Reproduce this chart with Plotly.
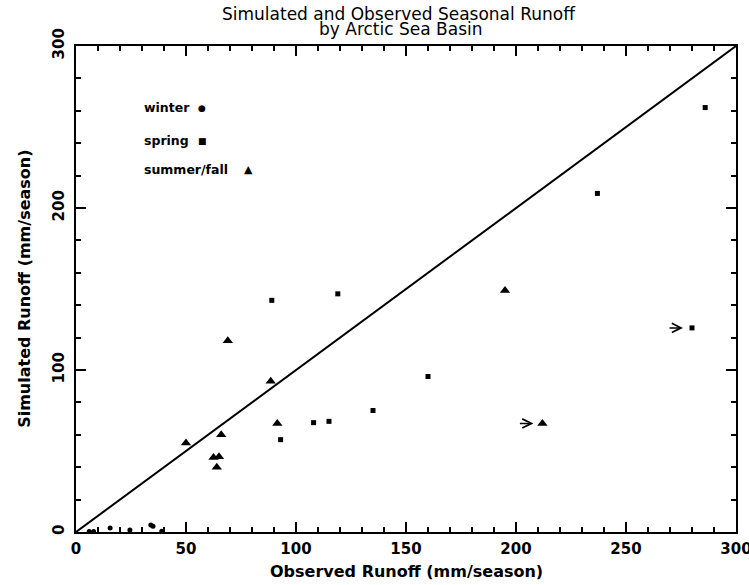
import plotly.graph_objects as go

# ---- data (mm/season) ----
winter_obs = [6, 8, 15.5, 24.5, 34, 35, 39]
winter_sim = [0.3, 0.3, 2.5, 1.2, 4.3, 3.5, 0.5]

spring_obs = [89, 119, 108, 115, 93, 135, 160, 237, 286, 280]
spring_sim = [143, 147, 67.5, 68.3, 57, 75, 96, 209, 262, 126]

summer_obs = [50, 66, 69, 88.5, 91.5, 195, 212, 62.5, 65, 64]
summer_sim = [55, 60, 118, 93, 67, 149, 67, 46, 46.5, 40]

line_vals = [0, 300]
x_ticks = [0, 50, 100, 150, 200, 250, 300]
y_ticks = [0, 100, 200, 300]

legend_names = ["winter", "spring", "summer/fall"]
legend_glyphs = ["\u25CF", "\u25A0", "\u25B2"]

# arrows mark off-scale points
arrow_obs = [280, 212]
arrow_sim = [126, 67]

FONT = "DejaVu Sans"

fig = go.Figure()
fig.add_trace(go.Scatter(x=line_vals, y=line_vals, mode="lines",
                         line=dict(color="black", width=2), hoverinfo="skip"))
fig.add_trace(go.Scatter(x=winter_obs, y=winter_sim, mode="markers",
                         marker=dict(symbol="circle", size=5, color="black")))
fig.add_trace(go.Scatter(x=spring_obs, y=spring_sim, mode="markers",
                         marker=dict(symbol="square", size=5, color="black")))
fig.add_trace(go.Scatter(x=summer_obs, y=summer_sim, mode="markers",
                         marker=dict(symbol="triangle-up", size=9, color="black")))

axis_common = dict(
    showgrid=False, zeroline=False, showline=True, linecolor="black",
    linewidth=2, mirror="allticks", ticks="inside", ticklen=10,
    tickwidth=1.5, tickcolor="black", automargin=False,
    ticklabeloverflow="allow",
    tickfont=dict(family=FONT, size=15, color="black", weight="bold"),
)

fig.update_layout(
    width=749, height=585,
    margin=dict(l=76, r=13, t=46, b=53),
    paper_bgcolor="white", plot_bgcolor="white",
    showlegend=False,
    xaxis=dict(range=[0, 300], tickvals=x_ticks, ticklabelstandoff=2,
               minor=dict(dtick=10, ticks="inside", ticklen=5, tickcolor="black", tickwidth=1.5),
               **axis_common),
    yaxis=dict(range=[0, 300], tickvals=y_ticks, tickangle=-90, ticklabelstandoff=4,
               minor=dict(dtick=20, ticks="inside", ticklen=5, tickcolor="black", tickwidth=1.5),
               **axis_common),
)

# title lines
fig.add_annotation(x=0.49, y=1.0665, xref="paper", yref="paper", showarrow=False,
                   text="Simulated and Observed Seasonal Runoff", xanchor="center", yanchor="middle",
                   font=dict(family=FONT, size=17, color="black"))
fig.add_annotation(x=0.493, y=1.036, xref="paper", yref="paper", showarrow=False,
                   text="by Arctic Sea Basin", xanchor="center", yanchor="middle",
                   font=dict(family=FONT, size=17, color="black"))

# axis titles
fig.add_annotation(x=0.5, y=-0.082, xref="paper", yref="paper", showarrow=False,
                   text="Observed Runoff (mm/season)", xanchor="center", yanchor="middle",
                   font=dict(family=FONT, size=16, color="black", weight="bold"))
fig.add_annotation(x=-0.079, y=0.5, xref="paper", yref="paper", showarrow=False,
                   text="Simulated Runoff (mm/season)", textangle=-90,
                   xanchor="center", yanchor="middle",
                   font=dict(family=FONT, size=16, color="black", weight="bold"))

# legend as text + glyph annotations (glyph to the right of label)
legend_y = [262, 241.5, 223.5]
glyph_x = [57.3, 57.3, 78.5]
glyph_size = [9, 9, 11]
for name, glyph, ly, gx, gs in zip(legend_names, legend_glyphs, legend_y, glyph_x, glyph_size):
    fig.add_annotation(x=30, y=ly, xref="x", yref="y", text=name, showarrow=False,
                       xanchor="left", yanchor="middle",
                       font=dict(family=FONT, size=12.5, color="black", weight="bold"))
    fig.add_annotation(x=gx, y=ly, xref="x", yref="y", text=glyph, showarrow=False,
                       xanchor="center", yanchor="middle",
                       font=dict(family=FONT, size=gs, color="black"))

for ax_, ay_ in zip(arrow_obs, arrow_sim):
    fig.add_annotation(x=ax_, y=ay_, xref="x", yref="y", text="", showarrow=True,
                       ax=-24, ay=0, arrowhead=5, arrowsize=1.2, arrowwidth=1.5,
                       arrowcolor="black", standoff=9)

# remove the page's default 8px body margin so the figure fills the window exactly
fig.write_html("out.html", config={"displayModeBar": False},
               post_script="document.body.style.margin='0px';")
